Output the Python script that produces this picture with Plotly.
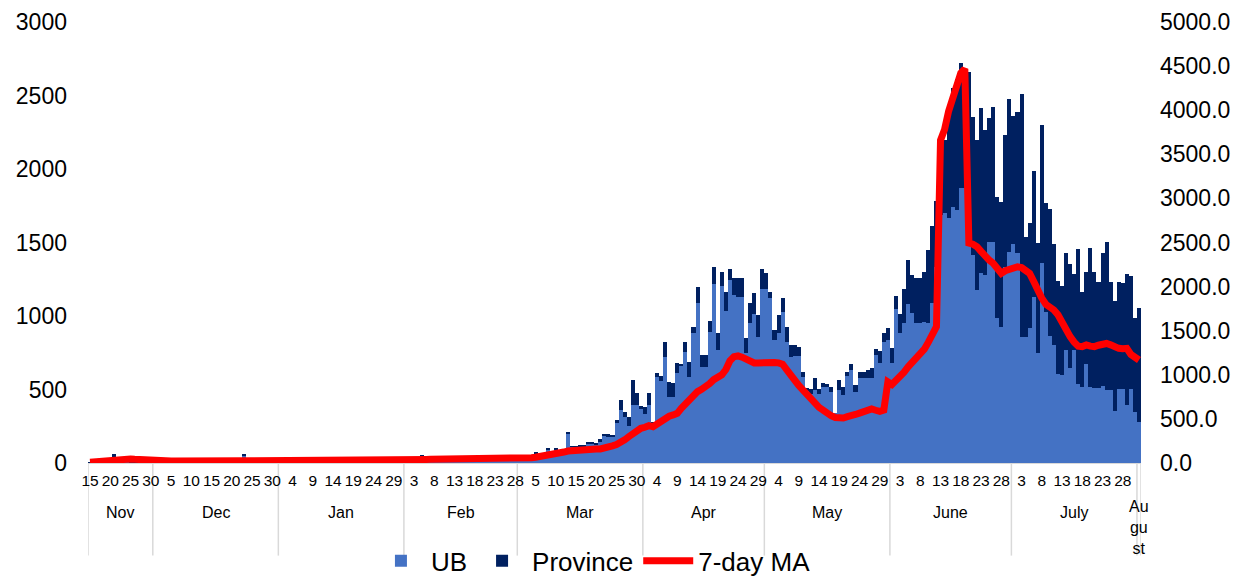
import pandas as pd
import plotly.graph_objects as go

start_date = "2020-11-15"
end_date = "2021-08-01"

# Daily new cases, Ulaanbaatar (UB)
ub = (
    [3, 5, 6, 8, 10, 8, 10, 12, 10, 8, 6, 5, 6, 4, 6, 5]  # Nov 15-30
    + [8, 10, 6, 9, 12, 8, 6, 10, 9, 8, 12, 10, 6, 8, 9, 10, 8, 6, 9, 8, 10, 12, 50, 13, 9, 8, 6, 10, 8, 9, 10]  # Dec
    + [10, 12, 9, 14, 12, 10, 15, 13, 11, 16, 14, 12, 10, 13, 15, 12, 11, 14, 16, 13, 12, 15, 17, 14, 12, 16, 18, 15, 13, 17, 19]  # Jan
    + [20, 22, 25, 30, 48, 28, 24, 26, 22, 20, 25, 30, 40, 28, 24, 22, 26, 30, 35, 25, 22, 20, 24, 28, 26, 22, 25, 30]  # Feb
    + [22, 26, 18, 30, 65, 50, 55, 90, 55, 90, 70, 90, 200, 110, 105, 112, 112, 133, 130, 125, 145, 185, 180, 175, 270, 362, 316, 253, 395, 395, 365]  # Mar
    + [330, 395, 260, 587, 555, 723, 451, 451, 614, 660, 757, 587, 882, 1090, 650, 650, 893, 1215, 769, 1204, 1036, 1245, 1143, 1131, 1131, 746, 950, 1011, 859, 1181]  # Apr
    + [1181, 1120, 837, 882, 1029, 825, 720, 728, 728, 587, 490, 470, 497, 470, 519, 515, 485, 338, 497, 463, 591, 632, 485, 580, 580, 580, 580, 735, 678, 825, 837]  # May
    + [678, 1045, 882, 955, 1082, 1018, 955, 955, 961, 950, 1091, 1336, 1687, 1700, 1664, 1744, 1721, 1868, 1868, 1551, 1415, 1177, 1290, 1279, 1506, 1506, 984, 927, 1336, 1438]  # Jun
    + [1488, 1426, 859, 859, 916, 1131, 746, 1363, 1029, 864, 803, 605, 599, 769, 644, 769, 537, 519, 671, 519, 508, 508, 526, 497, 497, 354, 501, 501, 395, 501, 349]  # Jul
    + [281]  # Aug 1
)

# Daily new cases, provinces
province = (
    [2, 4, 6, 8, 10, 12, 52, 14, 10, 8, 6, 5, 6, 4, 5, 4]
    + [4, 5, 4, 5, 6, 4, 4, 6, 5, 4, 6, 5, 4, 4, 5, 6, 4, 4, 5, 4, 5, 6, 5, 7, 5, 4, 4, 5, 4, 5, 6]
    + [5, 6, 4, 6, 5, 4, 7, 5, 4, 6, 5, 5, 4, 6, 6, 5, 4, 6, 7, 5, 5, 6, 7, 5, 4, 6, 7, 6, 5, 6, 8]
    + [6, 8, 7, 8, 6, 9, 7, 8, 6, 6, 8, 9, 7, 8, 6, 7, 8, 9, 8, 7, 6, 6, 7, 8, 8, 6, 7, 8]
    + [3, 4, 2, 5, 5, 5, 5, 7, 5, 7, 5, 5, 6, 5, 5, 6, 8, 12, 10, 10, 15, 15, 15, 15, 20, 68, 34, 57, 170, 80, 20]
    + [50, 80, 20, 27, 37, 102, 102, 91, 64, 10, 68, 102, 41, 110, 82, 82, 75, 116, 113, 98, 129, 72, 113, 125, 125, 102, 136, 148, 148, 136]
    + [109, 41, 68, 125, 91, 102, 80, 75, 63, 34, 18, 31, 79, 31, 23, 20, 34, 0, 68, 52, 30, 39, 45, 41, 41, 53, 64, 40, 84, 57, 79]
    + [102, 91, 132, 226, 299, 261, 301, 301, 341, 499, 521, 446, 492, 497, 715, 805, 889, 855, 805, 1111, 941, 1020, 1123, 986, 839, 914, 828, 851, 895, 1036]
    + [873, 964, 1651, 681, 714, 858, 748, 936, 737, 862, 687, 633, 605, 657, 710, 517, 919, 642, 628, 941, 791, 723, 900, 1004, 737, 750, 733, 721, 891, 773, 635]
    + [771]
)

# 7-day moving average (right axis)
ma7 = (
    [10, 15, 20, 26, 32, 38, 45, 50, 52, 50, 46, 42, 38, 35, 32, 30]
    + [28, 27, 26, 25, 24, 24, 23, 22, 22, 22, 21, 21, 20, 20, 20, 20, 20, 20, 21, 21, 21, 22, 25, 26, 26, 25, 24, 23, 22, 22, 22]
    + [22, 22, 23, 23, 23, 24, 24, 24, 24, 25, 25, 25, 25, 25, 25, 25, 26, 26, 26, 27, 27, 27, 28, 28, 29, 29, 30, 30, 31, 32, 33]
    + [34, 35, 36, 38, 40, 41, 42, 42, 42, 42, 43, 44, 45, 45, 45, 46, 46, 47, 48, 48, 48, 47, 47, 47, 47, 46, 46, 47]
    + [50, 52, 55, 60, 66, 72, 80, 88, 96, 104, 112, 124, 136, 142, 148, 154, 159, 160, 159, 159, 159, 165, 185, 195, 210, 230, 262, 298, 335, 365, 393]
    + [405, 423, 412, 445, 468, 505, 530, 545, 563, 620, 670, 695, 750, 809, 835, 858, 900, 945, 975, 1000, 1060, 1160, 1205, 1215, 1200, 1178, 1160, 1135, 1135, 1140]
    + [1142, 1142, 1140, 1135, 1120, 1060, 990, 920, 880, 830, 775, 720, 670, 630, 600, 560, 535, 515, 505, 510, 525, 530, 550, 565, 575, 605, 612, 598, 585, 600, 920]
    + [890, 930, 975, 1030, 1090, 1140, 1200, 1240, 1290, 1370, 1440, 1546, 3660, 3780, 3990, 4150, 4300, 4420, 4470, 2494, 2480, 2453, 2400, 2340, 2300, 2265, 2200, 2151, 2180, 2200]
    + [2215, 2225, 2215, 2190, 2150, 2060, 1950, 1870, 1800, 1770, 1735, 1680, 1590, 1500, 1432, 1370, 1325, 1320, 1338, 1325, 1320, 1335, 1345, 1355, 1340, 1310, 1300, 1295, 1300, 1230, 1195]
    + [1168]
)

month_labels = ["Nov", "Dec", "Jan", "Feb", "Mar", "Apr", "May", "June", "July", "Au<br>gu<br>st"]
left_ticks = [0, 500, 1000, 1500, 2000, 2500, 3000]
right_ticks = [0, 500, 1000, 1500, 2000, 2500, 3000, 3500, 4000, 4500, 5000]

dates = pd.date_range(start_date, end_date, freq="D")
assert len(dates) == len(ub) == len(province) == len(ma7)

tick_dates = list(dates[::5])
tick_text = [str(d.day) for d in tick_dates]

FONT = "Liberation Sans, Arial, sans-serif"
half = pd.Timedelta(hours=12)

fig = go.Figure()
fig.add_trace(go.Bar(x=dates, y=ub, name="UB", marker=dict(color="#4472C4", line=dict(width=0))))
fig.add_trace(go.Bar(x=dates, y=province, name="Province", marker=dict(color="#002060", line=dict(width=0))))
fig.add_trace(go.Scatter(x=dates, y=ma7, name="7-day MA", mode="lines",
                         line=dict(color="#FF0000", width=7), yaxis="y2"))

# month groups: separators + labels
s = pd.Series(dates)
groups = s.groupby([s.dt.year, s.dt.month], sort=False)
firsts = [g.iloc[0] for _, g in groups]
lasts = [g.iloc[-1] for _, g in groups]
bounds = [f - half for f in firsts] + [lasts[-1] + half]
for b in bounds:
    fig.add_shape(type="line", xref="x", yref="paper", x0=b, x1=b, y0=0, y1=-0.21,
                  line=dict(color="#d9d9d9", width=1.5), layer="below")
for lab, f, l in zip(month_labels, firsts, lasts):
    mid = f - half + (l - f + 2 * half) / 2
    multi = "<br>" in lab
    fig.add_annotation(x=mid, y=-0.147 if multi else -0.113, xref="x", yref="paper",
                       text=lab, showarrow=False, yanchor="middle",
                       font=dict(family=FONT, size=16, color="#000"))

# page body has an 8px margin, so the figure is drawn 8px smaller and offset
fig.update_layout(
    width=1238, height=572,
    paper_bgcolor="white", plot_bgcolor="white",
    margin=dict(l=80, r=105, t=14, b=117, autoexpand=False),
    barmode="stack", bargap=0,
    font=dict(family=FONT, color="#000"),
    xaxis=dict(type="date", range=[dates[0] - half, dates[-1] + half],
               tickmode="array", tickvals=tick_dates, ticktext=tick_text, tickangle=0,
               tickfont=dict(size=15.5, family=FONT, color="#000"),
               showgrid=False, zeroline=False, showline=True, linecolor="#d9d9d9", linewidth=1,
               ticks="", ticklabelstandoff=3),
    yaxis=dict(range=[0, 3000], tickmode="array", tickvals=left_ticks,
               tickfont=dict(size=23, family=FONT, color="#000"),
               showgrid=False, zeroline=False, showline=False, ticks="", ticklabelstandoff=20),
    yaxis2=dict(range=[0, 5000], overlaying="y", side="right", tickmode="array",
                tickvals=right_ticks, tickformat=".1f",
                tickfont=dict(size=23, family=FONT, color="#000"),
                showgrid=False, zeroline=False, showline=False, ticks="", ticklabelstandoff=18),
    showlegend=True,
    legend=dict(orientation="h", x=0.48, xanchor="center", y=-0.222, yanchor="middle",
                font=dict(size=26, family=FONT, color="#000"), traceorder="normal",
                bgcolor="rgba(0,0,0,0)", itemwidth=50),
)

fig.write_html("out.html")
